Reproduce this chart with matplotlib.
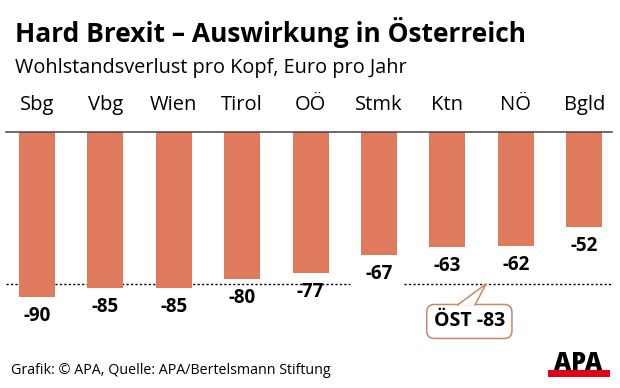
import matplotlib as mpl
import matplotlib.pyplot as plt
from matplotlib.patches import Rectangle, Polygon

mpl.rcParams.update({
    "font.family": ["Open Sans", "DejaVu Sans"],
})

# ── Data ──
regions = ["Sbg", "Vbg", "Wien", "Tirol", "OÖ", "Stmk", "Ktn", "NÖ", "Bgld"]
loss = [-90, -85, -85, -80, -77, -67, -63, -62, -52]
austria_avg = -83

BAR = "#df7a5c"
EDGE = "#c8866a"

fig = plt.figure(figsize=(6.2, 3.88), dpi=100)
ax = fig.add_axes([0, 0, 1, 1])
ax.set_xlim(-0.541, 8.523)
ax.set_ylim(-139.7, 72.0)
ax.axis("off")

x = range(len(regions))
ax.bar(x, loss, width=0.526, color=BAR, zorder=2)
ax.axhline(0, xmin=0.01, xmax=0.987, color="#444444", lw=1.1, zorder=3)

for i, (name, v) in enumerate(zip(regions, loss)):
    ax.text(i, 14.5, name, ha="center", va="center", fontsize=14.5)
    ax.annotate(f"{v}", (i, v), xytext=(0, -6.5), textcoords="offset points",
                ha="center", va="top", fontsize=13.5, fontweight="bold")

# average line (broken behind the Stmk label)
dots = dict(ls=(0, (1.6, 1.6)), color="black", lw=1.0, zorder=1)
ax.axhline(austria_avg, xmin=0.01, xmax=0.565, **dots)
ax.axhline(austria_avg, xmin=0.652, xmax=0.989, **dots)

# callout box with pointer to the average line
ax.text(6.32, -103.4, f"ÖST {austria_avg}", ha="center", va="center",
        fontsize=14, fontweight="bold", zorder=4,
        bbox=dict(boxstyle="round,pad=0.36,rounding_size=0.4", fc="white", ec=EDGE, lw=1.1))
ax.add_patch(Polygon([(6.14, -94.6), (6.564, austria_avg), (6.40, -94.6)], closed=False,
                     fc="white", ec=EDGE, lw=1.1, zorder=5))

# ── Titles / footer ──
fig.text(0.024, 0.915, "Hard Brexit – Auswirkung in Österreich", fontsize=19,
         fontweight="bold", va="center")
fig.text(0.024, 0.824, "Wohlstandsverlust pro Kopf, Euro pro Jahr", fontsize=14.3, va="center")
fig.text(0.018, 0.044, "Grafik: © APA, Quelle: APA/Bertelsmann Stiftung", fontsize=10.3, va="center")

# APA logo
fig.text(0.933, 0.046, "APA", fontsize=17, fontweight="black", ha="center", va="baseline")
fig.add_artist(Rectangle((0.884, 0.028), 0.1, 0.019, transform=fig.transFigure,
                         color="#e3001b", lw=0))

fig.savefig("out.png", dpi=100)
